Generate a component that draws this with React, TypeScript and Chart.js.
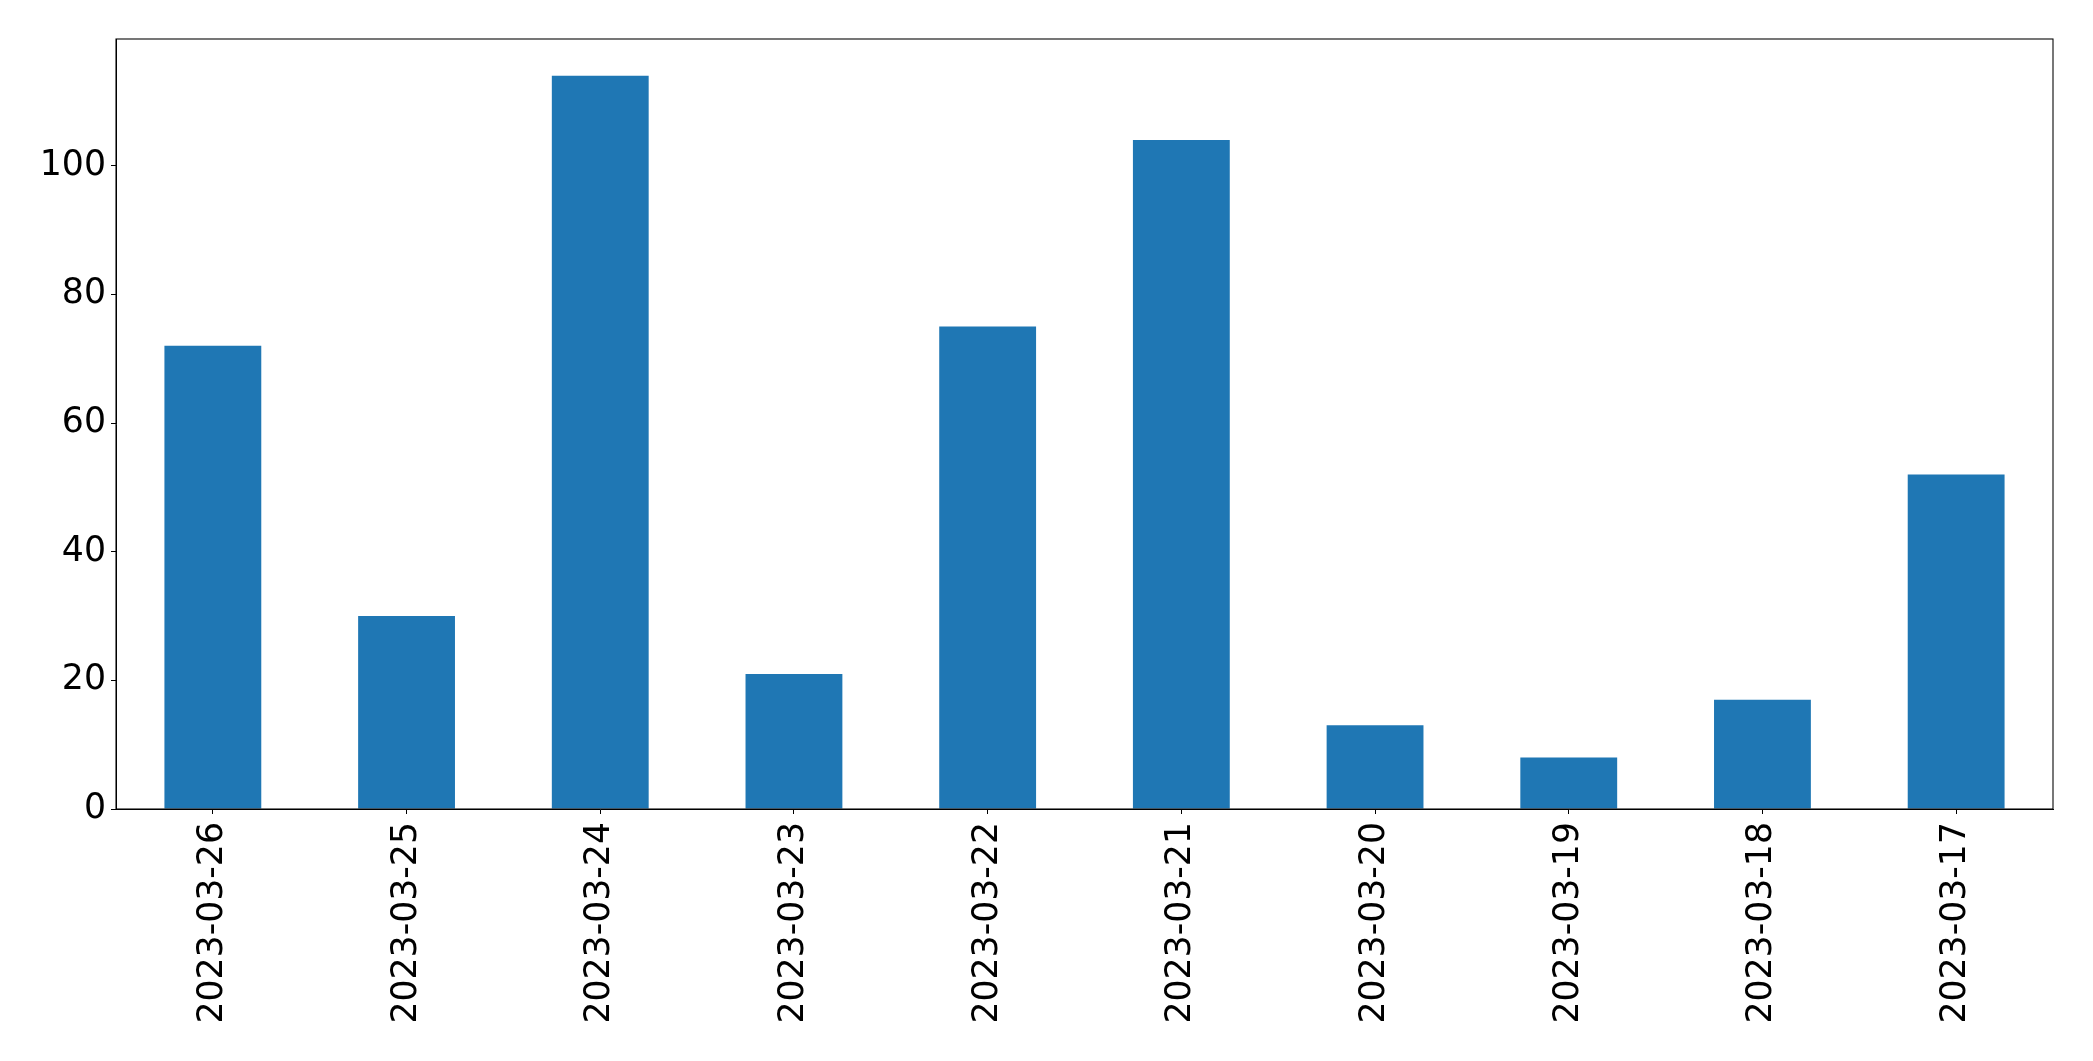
import React, { useEffect, useRef } from "react";
import { Chart, registerables } from "chart.js";

Chart.register(...registerables);

const categories = [
  "2023-03-26", "2023-03-25", "2023-03-24", "2023-03-23", "2023-03-22",
  "2023-03-21", "2023-03-20", "2023-03-19", "2023-03-18", "2023-03-17",
];
const values = [72, 30, 114, 21, 75, 104, 13, 8, 17, 52];
const yTicks = [0, 20, 40, 60, 80, 100];

const W = 2093;
const H = 1061;
const FONT = { family: "'DejaVu Sans', sans-serif", size: 34.7 };

const frame = {
  id: "frame",
  afterDraw(chart: any) {
    const { ctx, chartArea } = chart;
    ctx.save();
    ctx.strokeStyle = "#000";
    ctx.lineWidth = 1.07;
    ctx.strokeRect(chartArea.left, chartArea.top, chartArea.right - chartArea.left, chartArea.bottom - chartArea.top);
    ctx.restore();
  },
};

export default function App() {
  const ref = useRef<HTMLCanvasElement>(null);
  useEffect(() => {
    if (!ref.current) return;
    const chart = new Chart(ref.current, {
      type: "bar",
      data: {
        labels: categories,
        datasets: [
          {
            data: values,
            backgroundColor: "#1f77b4",
            borderWidth: 0,
            barPercentage: 0.5,
            categoryPercentage: 1,
          },
        ],
      },
      options: {
        animation: false,
        responsive: false,
        devicePixelRatio: 1,
        layout: { padding: { left: 0, right: 40, top: 39, bottom: 0 } },
        plugins: { legend: { display: false }, tooltip: { enabled: false } },
        scales: {
          x: {
            offset: true,
            grid: { display: true, offset: false, drawOnChartArea: false, drawTicks: true, tickLength: 5, color: "#000" },
            border: { display: true, color: "#000", width: 1 },
            ticks: { color: "#000", font: FONT, maxRotation: 90, minRotation: 90, padding: 8, autoSkip: false },
            afterFit(scale: any) {
              scale.height = 252;
            },
          },
          y: {
            min: 0,
            max: 119.7,
            grid: { display: true, drawOnChartArea: false, drawTicks: true, tickLength: 5, color: "#000" },
            border: { display: true, color: "#000", width: 1 },
            ticks: { color: "#000", font: FONT, stepSize: 20, includeBounds: false, padding: 5 },
            afterBuildTicks(scale: any) {
              scale.ticks = yTicks.map((v) => ({ value: v }));
            },
            afterFit(scale: any) {
              scale.width = 116;
            },
          },
        },
      },
      plugins: [frame],
    });
    return () => chart.destroy();
  }, []);
  return (
    <div style={{ position: "absolute", left: 0, top: 0, width: W, height: H, background: "#fff" }}>
      <canvas ref={ref} width={W} height={H} style={{ width: W, height: H, display: "block" }} />
    </div>
  );
}
